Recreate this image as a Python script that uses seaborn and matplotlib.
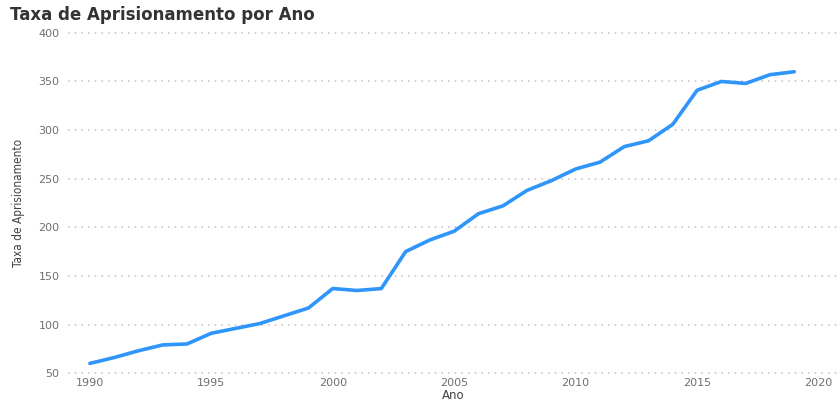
import matplotlib
matplotlib.use("Agg")
import matplotlib.pyplot as plt
import seaborn as sns
import pandas as pd

anos = list(range(1990, 2020))
taxa = [60, 66, 73, 79, 80, 91, 96, 101, 109, 117,
        137, 135, 137, 175, 187, 196, 214, 222, 238, 248,
        260, 267, 283, 289, 306, 341, 350, 348, 357, 360]
y_ticks = [50, 100, 150, 200, 250, 300, 350, 400]
x_ticks = [1990, 1995, 2000, 2005, 2010, 2015, 2020]

df = pd.DataFrame({"Ano": anos, "Taxa de Aprisionamento": taxa})

sns.set_theme(style="white")
plt.rcParams["font.family"] = ["DejaVu Sans"]

fig = plt.figure(figsize=(8.4, 4.01), dpi=100)
ax_bottom, ax_top = 377, 29
ax = fig.add_axes([68 / 840, 1 - ax_bottom / 401, (838 - 68) / 840,
                   (ax_bottom - ax_top) / 401])

sns.lineplot(data=df, x="Ano", y="Taxa de Aprisionamento", ax=ax,
             color="#2f95fb", linewidth=2.6)

ax.set_xlim(1989.1, 2020.8)
ax.set_ylim(46, 404)
ax.set_yticks(y_ticks)
ax.set_xticks(x_ticks)
ax.grid(axis="y", linestyle=(0, (1, 3)), color="#c8c8c8", linewidth=1.2)
ax.grid(axis="x", visible=False)
for s in ax.spines.values():
    s.set_visible(False)

ax.tick_params(axis="both", length=0, labelsize=8, labelcolor="#707070")
ax.tick_params(axis="y", pad=6)
ax.tick_params(axis="x", pad=1)

ax.set_xlabel("Ano", fontsize=8.5, color="#404040")
ax.xaxis.set_label_coords(0.5, -(389 - ax_bottom) / (ax_bottom - ax_top))
ax.set_ylabel("Taxa de Aprisionamento", fontsize=8.5, color="#404040",
              fontstretch="condensed", labelpad=10)

fig.text(10 / 840, 1 - 15 / 401, "Taxa de Aprisionamento por Ano",
         fontsize=12, fontweight="bold", color="#333333",
         ha="left", va="center")

fig.savefig("out.png", dpi=100)
